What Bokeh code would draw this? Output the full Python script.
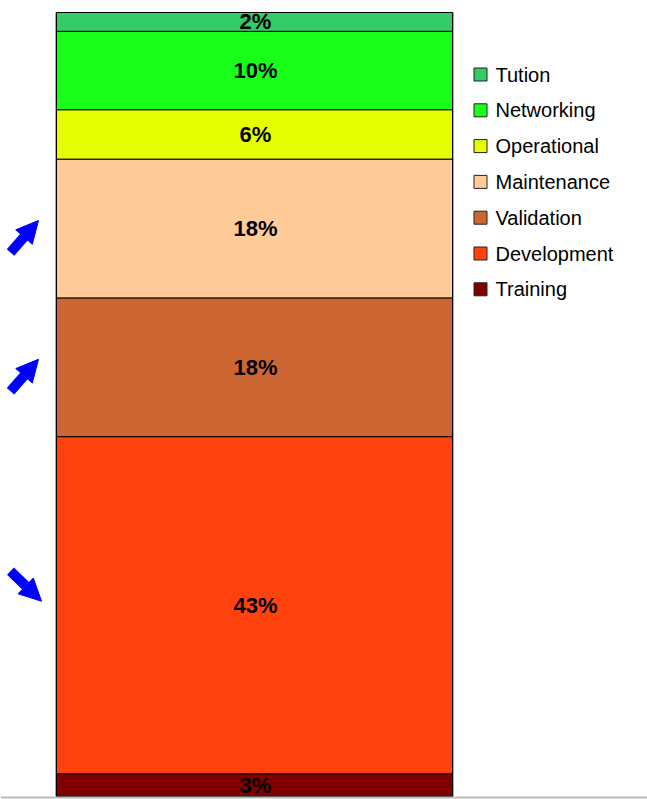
from bokeh.plotting import figure
from bokeh.models import Range1d, ColumnDataSource, Arrow, NormalHead, Span
from bokeh.core.properties import value
from bokeh.embed import file_html
from bokeh.resources import INLINE

# ---- data (bottom to top) ----
categories = ["Training", "Development", "Validation", "Maintenance", "Operational", "Networking", "Tution"]
shares = [2.9, 43.0, 17.7, 17.7, 6.3, 10.0, 2.4]
colors = ["#7F0000", "#FF420E", "#CC6633", "#FFCC99", "#E6FF00", "#1AFF1A", "#33CC66"]
trends = ["", "down", "up", "up", "", "", ""]

W, H = 647, 799
PX = 7.84  # pixels per percentage point
p = figure(width=W, height=H, output_backend="svg", toolbar_location=None,
           min_border=0, outline_line_color=None,
           x_range=Range1d(0, W), y_range=Range1d(-3 / PX, 100 + 12 / PX))
p.axis.visible = False
p.grid.visible = False
p.background_fill_color = "white"

bottoms, tops = [], []
acc = 0
for s in shares:
    bottoms.append(acc)
    acc += s
    tops.append(acc)
mids = [(b + t) / 2 for b, t in zip(bottoms, tops)]
labels = [f"{round(s):.0f}%" for s in shares]

src = ColumnDataSource(dict(bottom=bottoms, top=tops, mid=mids, color=colors,
                            label=labels, cat=categories))

BAR_X, BAR_W = 254, 396
# shadow lines
p.segment(x0=[BAR_X - BAR_W / 2 - 1], y0=[0], x1=[BAR_X - BAR_W / 2 - 1], y1=[100],
          line_color="#AAAAAA", line_width=1)
p.segment(x0=[BAR_X + BAR_W / 2 + 1], y0=[0], x1=[BAR_X + BAR_W / 2 + 1], y1=[100],
          line_color="#AAAAAA", line_width=1)
p.vbar(x=BAR_X, width=BAR_W, bottom="bottom", top="top", fill_color="color",
       line_color="black", line_width=1, source=src)
p.text(x=BAR_X + 1, y="mid", text="label", source=src, text_align="center",
       text_baseline="middle", text_font=value("Liberation Sans"),
       text_font_style="bold", text_font_size="22px", text_color="black")

p.add_layout(Span(location=-0.9 / PX, dimension="width", line_color="#BBBBBB", line_width=2))

# legend (top entry first)
n = len(categories)
leg_y = [(796 - (74 + i * 35.8)) / PX for i in range(n)]
leg_src = ColumnDataSource(dict(y=leg_y, cat=categories[::-1], color=colors[::-1]))
p.rect(x=480, y="y", width=13, height=13 / PX, fill_color="color", line_color="#222222",
       line_width=1, source=leg_src)
p.text(x=495, y="y", text="cat", source=leg_src, text_baseline="middle",
       text_font=value("Liberation Sans"), text_font_size="20px", text_color="black")

# trend arrows
for t, m in zip(trends, mids):
    if t == "up":
        yc = m - 8 / PX
        p.add_layout(Arrow(x_start=10, y_start=yc - 16 / PX, x_end=38, y_end=yc + 16 / PX,
                           line_color="blue", line_width=10,
                           end=NormalHead(size=22, fill_color="blue", line_color="blue")))
    elif t == "down":
        yc = m + 19 / PX
        p.add_layout(Arrow(x_start=10, y_start=yc + 15 / PX, x_end=41, y_end=yc - 15 / PX,
                           line_color="blue", line_width=10,
                           end=NormalHead(size=22, fill_color="blue", line_color="blue")))

open("out.html", "w").write(file_html(p, INLINE))
